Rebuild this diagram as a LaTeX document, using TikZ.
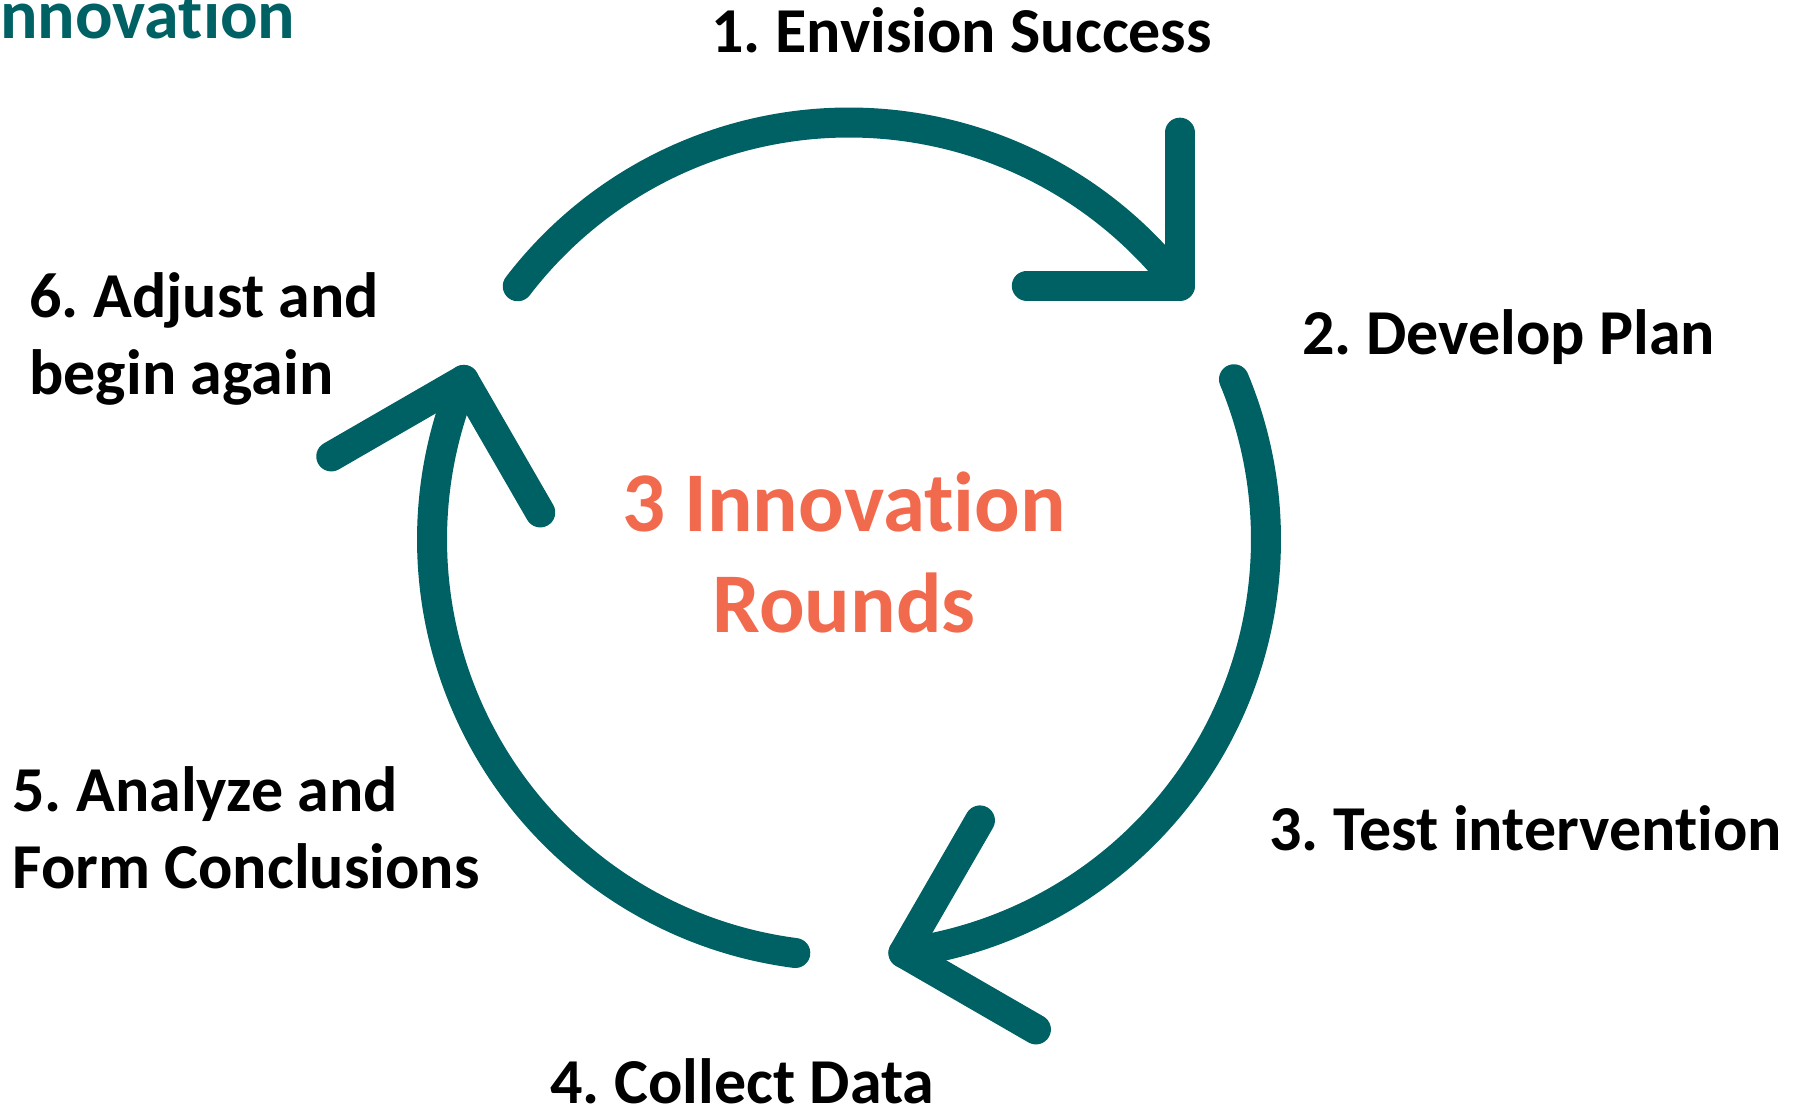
\documentclass[tikz,border=0pt]{standalone}
\usepackage{fontspec}
\setmainfont{Carlito}[Ligatures=CommonOff]
\usetikzlibrary{calc}
\definecolor{cycteal}{RGB}{0,97,101}
\definecolor{coral}{RGB}{242,106,77}
\frenchspacing
\begin{document}
\begin{tikzpicture}[x=0.5pt,y=-0.5pt,
  loop/.style={draw=cycteal, line width=15pt, line cap=round, line join=round},
  lbl/.style={font=\fontsize{32}{38.5}\selectfont\bfseries\frenchspacing, anchor=base west, inner sep=0pt, align=left, text=black},
]
\useasboundingbox (0,0) rectangle (1793,1112);
\coordinate (c) at (849,539.5);
% arcs
\draw[loop] (c) ++(-142.6:417) coordinate (s1) arc[start angle=-142.6, end angle=-37.5, radius=417] coordinate (t1);
\draw[loop] (c) ++(-22.6:417) coordinate (s2) arc[start angle=-22.6, end angle=82.5, radius=417] coordinate (t2);
\draw[loop] (c) ++(97.4:417) coordinate (s3) arc[start angle=97.4, end angle=202.5, radius=417] coordinate (t3);
% arrowheads
\draw[loop] ($(t1)+(0,-153)$) -- (t1) -- ($(t1)+(-153,0)$);
\draw[loop] ($(t2)+(76.5,-132.5)$) -- (t2) -- ($(t2)+(132.5,76.5)$);
\draw[loop] ($(t3)+(-132.5,76.5)$) -- (t3) -- ($(t3)+(76.5,132.5)$);
% labels
\node[anchor=base west, inner sep=0pt, text=cycteal, font=\fontsize{35}{42}\selectfont\bfseries] (ttl) at (-19,39) {Innovation};
\node[lbl] (l1) at (711,53) {1. Envision Success};
\node[lbl] (l2) at (1302,355) {2. Develop Plan};
\node[lbl] (l3) at (1269,850) {3. Test intervention};
\node[lbl] (l4) at (550,1103) {4. Collect Data};
\node[lbl] (l5) at (12,888) {5. Analyze and\\Form Conclusions};
\node[lbl] (l6) at (29,394) {6. Adjust and\\begin again};
\node[align=center, anchor=base, inner sep=0pt, text=coral, font=\fontsize{42.5}{50.5}\selectfont\bfseries] (mid) at (844,632) {3 Innovation\\Rounds};
\end{tikzpicture}
\end{document}
